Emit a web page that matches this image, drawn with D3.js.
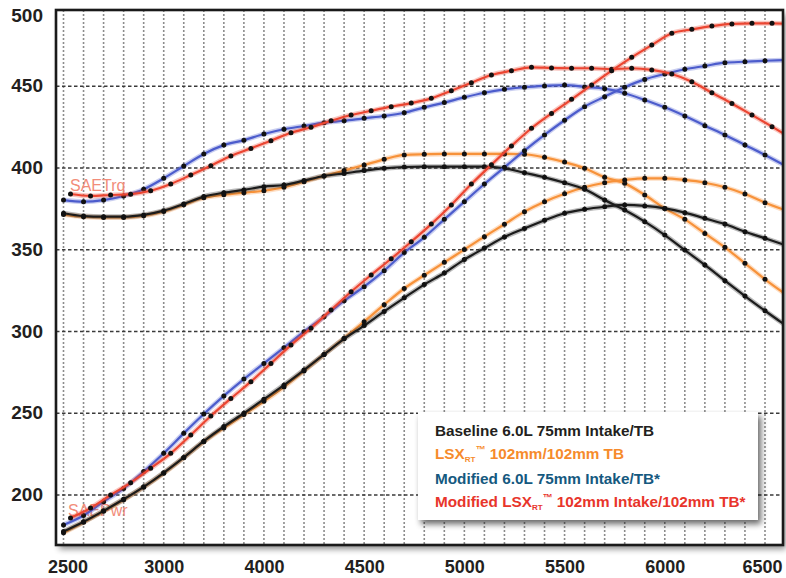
<!DOCTYPE html>
<html><head><meta charset="utf-8">
<script src="https://cdn.jsdelivr.net/npm/d3@7"></script>
<style>
html,body{margin:0;padding:0;background:#fff;}
svg{display:block;}
</style></head>
<body>
<svg id="c" width="786" height="578"></svg>
<script>
// ---- data ----
const rpm = [2500,2600,2700,2800,2900,3000,3100,3200,3300,3400,3500,3600,3700,3800,3900,4000,4100,4200,4300,4400,4500,4600,4700,4800,4900,5000,5100,5200,5300,5400,5500,5600,5700,5800,5900,6000,6100];
const rpmLsxMod = [2535,2635,2735,2835,2935,3035,3135,3235,3335,3435,3535,3635,3735,3835,3935,4035,4135,4235,4335,4435,4535,4635,4735,4835,4935,5035,5135,5235,5335,5435,5535,5635,5735,5835,5935,6035,6135];

const baseTq = [372.3,370.6,370.2,370.2,371.3,373.9,378,382.5,384.9,386.6,388.6,389.6,392.3,395.1,396.7,398.4,399.8,400.6,400.8,400.8,400.8,400.8,399.8,397.1,394.3,391,387,380.4,374.3,367.2,359,349.8,340.7,331.1,321.7,312.7,304];
const baseHp = [177.6,183.6,190.3,197.4,205.0,213.6,223,232.9,241.9,250,258.6,267.2,276.4,286,295.5,303.6,312.3,320.6,328.7,335.8,344,351,357.8,363,368,372.3,374.7,376.3,377.4,376.8,375.3,372.7,369.2,365.7,361,357,352.9];
const lsxTq = [371.5,370.2,369.8,369.8,370.8,373.4,377.5,381.8,383.6,384.9,386.1,388.2,391.6,395.1,398.4,401.8,405.3,408,408.4,408.6,408.6,408.6,408.6,408.4,406.5,403.6,399.8,394.3,390.6,383.5,375.3,368.6,360,351.5,341.7,331.9,323];
const lsxHp = [176.9,183.3,190.1,197.1,204.8,213.3,222.8,232.6,241.0,249.2,257.3,266.1,275.9,285.9,295.9,306,316.4,326.3,334.4,342.3,350.1,358,365.6,373.3,379.4,384.3,388.2,391,392.7,393.7,393.7,392.7,391,388.2,384.1,378.8,374.3];
const modTq = [380.4,379.4,380.4,382.9,387,393.7,401.2,408.6,414,417,420.8,423.7,425.7,427.7,428.9,430.4,431.8,433.8,437.1,440,443.2,446,448.1,449.4,450.2,450.7,449.6,448.5,445.7,441.6,437.1,431.8,425.9,420.2,414.1,408,401.5];
const modHp = [181.7,187.5,195.9,204,214.3,225.5,237.7,249.5,260.6,270.9,280.5,290.1,299.9,309,318.8,327.4,337.2,348.3,357.6,368.6,379.4,390.2,400.4,410.6,420.2,429.2,437.5,443.6,449.4,454.2,457.5,460.4,462.4,464.4,465,465.6,466];
const modLsxTq = [384.1,382.9,383.5,384.0,386.1,390.2,395.7,401.4,407.4,412,416.7,421.6,424.9,428.9,432.4,435,437.5,439.7,442.6,447.3,452.2,456.9,459.5,461.6,461.2,461,461,460.4,461,460,457.5,452.8,446,439.5,432.4,425.3,418];
const modLsxHp = [185.9,192,200,207.5,216.3,225.5,236.7,248.3,259,269.3,280.5,291.7,302,313.2,324.3,334.6,344.5,354.9,365.7,377.4,390.2,402,413.5,424.3,433.4,442,450.8,459.5,467.7,475.2,482.4,484.8,486.8,488.1,488.5,488.5,488];

const xTickValues = [2500,3000,3500,4000,4500,5000,5500,6000];
const xTickLabels = ["2500","3000","4000","4500","5000","5500","6000","6500"];
const yTickValues = [200,250,300,350,400,450,500];
const yGridValues = [200,250,300,350,400,450];

const seriesNames = ["Baseline 6.0L 75mm Intake/TB","LSX|RT|\u2122 102mm/102mm TB","Modified 6.0L 75mm Intake/TB*","Modified LSX|RT|\u2122 102mm Intake/102mm TB*"];
const legendColors = ["#231f20","#f68b2c","#15597f","#e8352b"];
const lineColors = ["#1c1c1c","#f7923a","#4c5ccc","#ec4632"];

// ---- layout ----
const svg = d3.select("#c");
const L = 56, T = 10, R = 783, B = 545;
const x = d3.scaleLinear().domain([2500, 6000]).range([63.5, 765]);
const y = d3.scaleLinear().domain([200, 500]).range([495, 4.5]);

const defs = svg.append("defs");
const sh = defs.append("filter").attr("id","sh").attr("x","-5%").attr("y","-5%").attr("width","115%").attr("height","120%");
sh.append("feGaussianBlur").attr("stdDeviation", 3);
defs.append("clipPath").attr("id","plot").append("rect")
  .attr("x", L).attr("y", T).attr("width", R - L).attr("height", B - T);

// frame shadow + background
svg.append("rect").attr("x", L + 3).attr("y", T + 4).attr("width", R - L).attr("height", B - T)
  .attr("fill", "#000").attr("opacity", 0.45).attr("filter", "url(#sh)");
svg.append("rect").attr("x", L).attr("y", T).attr("width", R - L).attr("height", B - T).attr("fill", "#fff");

const g = svg.append("g").attr("clip-path", "url(#plot)");

// grid
g.selectAll("line.vg").data(d3.range(2500, 6001, 100)).join("line").attr("class","vg")
  .attr("x1", d => x(d)).attr("x2", d => x(d)).attr("y1", T).attr("y2", B)
  .attr("stroke", "#8c8c8c").attr("stroke-width", 1.6).attr("stroke-dasharray", "2,2");
g.selectAll("line.hg").data(yGridValues).join("line").attr("class","hg")
  .attr("x1", L).attr("x2", R).attr("y1", d => y(d)).attr("y2", d => y(d))
  .attr("stroke", "#3a3a3a").attr("stroke-width", 1.3).attr("stroke-dasharray", "3.5,2.5");

// SAE labels
g.append("text").attr("x", 70).attr("y", 191).text("SAETrq")
  .attr("font-family", "Liberation Sans, Arial, sans-serif").attr("font-size", 16).attr("fill", "#f28c7a");
g.append("text").attr("x", 68).attr("y", 516).text("SAEPwr")
  .attr("font-family", "Liberation Sans, Arial, sans-serif").attr("font-size", 16).attr("fill", "#f28c7a");

// curves
const curves = [
  {xs: rpm, ys: lsxTq, c: 1}, {xs: rpm, ys: lsxHp, c: 1},
  {xs: rpm, ys: baseTq, c: 0}, {xs: rpm, ys: baseHp, c: 0},
  {xs: rpm, ys: modTq, c: 2}, {xs: rpm, ys: modHp, c: 2},
  {xs: rpmLsxMod, ys: modLsxTq, c: 3}, {xs: rpmLsxMod, ys: modLsxHp, c: 3}
];
const line = d3.line().x(d => x(d[0])).y(d => y(d[1])).curve(d3.curveMonotoneX);
curves.forEach(cv => {
  const pts = cv.xs.map((r, i) => [r, cv.ys[i]]);
  g.append("path").datum(pts).attr("d", line).attr("fill", "none")
    .attr("stroke", lineColors[cv.c]).attr("stroke-width", 5).attr("stroke-opacity", 0.3);
  g.append("path").datum(pts).attr("d", line).attr("fill", "none")
    .attr("stroke", lineColors[cv.c]).attr("stroke-width", 2.2);
  g.selectAll(null).data(pts).join("circle")
    .attr("cx", d => x(d[0])).attr("cy", d => y(d[1])).attr("r", 2.5).attr("fill", "#111");
});

// frame
svg.append("rect").attr("x", L).attr("y", T).attr("width", R - L).attr("height", B - T)
  .attr("fill", "none").attr("stroke", "#1a1a1a").attr("stroke-width", 2.6);

// axes
const fontAxis = "Liberation Sans, Arial, Helvetica, sans-serif";
const yAxis = svg.append("g").attr("transform", `translate(${L},0)`)
  .call(d3.axisLeft(y).tickValues(yTickValues).tickSize(0).tickPadding(13).tickFormat(d3.format("d")));
yAxis.select(".domain").remove();
yAxis.selectAll(".tick").attr("transform", d => `translate(0,${Math.max(y(d), 16)})`);
yAxis.selectAll("text").attr("font-family", fontAxis).attr("font-size", 19).attr("font-weight", "bold").attr("fill", "#231f20");

const xAxis = svg.append("g").attr("transform", `translate(0,${B})`)
  .call(d3.axisBottom(x).tickValues(xTickValues).tickSize(0).tickPadding(15).tickFormat((d, i) => xTickLabels[i]));
xAxis.select(".domain").remove();
xAxis.selectAll("text").attr("font-family", fontAxis).attr("font-size", 18).attr("font-weight", "bold").attr("fill", "#231f20")
  .attr("dx", (d, i) => i === 0 ? 4 : (i === xTickValues.length - 1 ? -3 : 0));

// legend
const lg = svg.append("g");
lg.append("rect").attr("x", 421).attr("y", 416).attr("width", 340).attr("height", 108)
  .attr("fill", "#000").attr("opacity", 0.6).attr("filter", "url(#sh)");
lg.append("rect").attr("x", 418).attr("y", 412).attr("width", 340).attr("height", 108).attr("fill", "#fff");
const baselines = [436, 459, 484, 507];
seriesNames.forEach((name, i) => {
  const t = lg.append("text").attr("x", 435).attr("y", baselines[i])
    .attr("font-family", fontAxis).attr("font-size", 15.3).attr("font-weight", "bold").attr("fill", legendColors[i]);
  const parts = name.split("|");
  if (parts.length === 1) { t.text(name); return; }
  t.append("tspan").text(parts[0]);
  t.append("tspan").text(parts[1]).attr("font-size", 8).attr("dy", 3);
  t.append("tspan").text(parts[2].charAt(0)).attr("font-size", 10).attr("dy", -9);
  t.append("tspan").text(parts[2].slice(1)).attr("dy", 6);
});
</script>
</body></html>
